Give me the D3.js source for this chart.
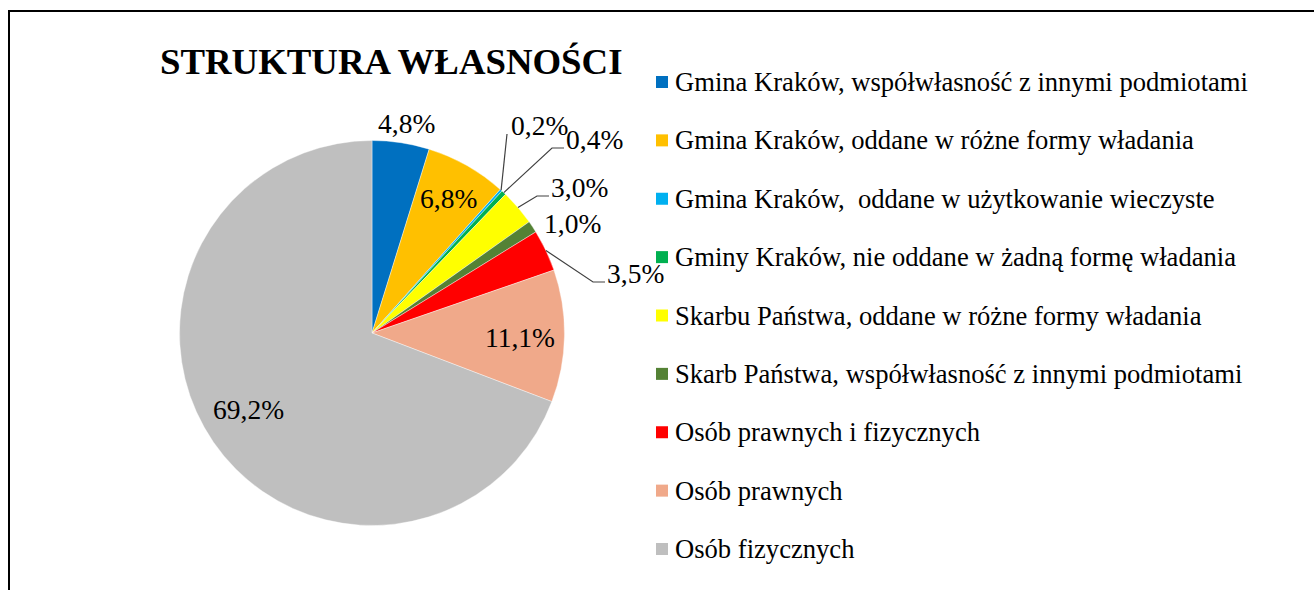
<!DOCTYPE html>
<html>
<head>
<meta charset="utf-8">
<script src="https://cdn.jsdelivr.net/npm/d3@7"></script>
<style>
  html, body { margin: 0; padding: 0; background: #fff; }
</style>
</head>
<body>
<div id="chart"></div>
<script>
// Struktura własności – pie chart

const categories = [
  "Gmina Kraków, współwłasność z innymi podmiotami",
  "Gmina Kraków, oddane w różne formy władania",
  "Gmina Kraków,  oddane w użytkowanie wieczyste",
  "Gminy Kraków, nie oddane w żadną formę władania",
  "Skarbu Państwa, oddane w różne formy władania",
  "Skarb Państwa, współwłasność z innymi podmiotami",
  "Osób prawnych i fizycznych",
  "Osób prawnych",
  "Osób fizycznych"
];
const shares = [4.8, 6.8, 0.2, 0.4, 3.0, 1.0, 3.5, 11.1, 69.2];
const valueLabels = ["4,8%", "6,8%", "0,2%", "0,4%", "3,0%", "1,0%", "3,5%", "11,1%", "69,2%"];
const colors = ["#0070C0", "#FFC000", "#00B0F0", "#00B050", "#FFFF00", "#548235", "#FF0000", "#F0A98A", "#BFBFBF"];

// label placement relative to pie centre (text start, baseline); leader = draw a connector
const labelPlacement = [
  { dx: 6, dy: -200 },
  { dx: 48, dy: -125 },
  { dx: 139, dy: -198, leader: "straight" },
  { dx: 194, dy: -184, leader: "elbow" },
  { dx: 179, dy: -136, leader: "elbow" },
  { dx: 172, dy: -100 },
  { dx: 235, dy: -50, leader: "elbow" },
  { dx: 113, dy: 14 },
  { dx: -159, dy: 86 }
];

const FONT = "'Liberation Serif', 'Times New Roman', serif";
const width = 1314;
const height = 590;
const cx = 372, cy = 333, radius = 192.5;

const svg = d3.select("#chart")
  .append("svg")
  .attr("width", width)
  .attr("height", height);

// frame (right and bottom edges fall outside the picture)
svg.append("rect")
  .attr("x", 9)
  .attr("y", 11)
  .attr("width", width + 20)
  .attr("height", height + 20)
  .attr("fill", "none")
  .attr("stroke", "#000")
  .attr("stroke-width", 2);

// title
svg.append("text")
  .attr("x", 160)
  .attr("y", 74)
  .attr("font-family", FONT)
  .attr("font-size", 36.8)
  .attr("font-weight", "bold")
  .text("STRUKTURA WŁASNOŚCI");

const pie = d3.pie().sort(null).value(d => d);
const arcs = pie(shares);
const arc = d3.arc().innerRadius(0).outerRadius(radius);
const edgeArc = d3.arc().innerRadius(radius).outerRadius(radius);

const g = svg.append("g").attr("transform", `translate(${cx},${cy})`);

g.selectAll("path.slice")
  .data(arcs)
  .join("path")
  .attr("class", "slice")
  .attr("d", arc)
  .attr("fill", (d, i) => colors[i])
  .attr("stroke", "#fff")
  .attr("stroke-width", 0.4);

// leader lines
g.selectAll("path.leader")
  .data(arcs.filter((d, i) => labelPlacement[i].leader))
  .join("path")
  .attr("class", "leader")
  .attr("fill", "none")
  .attr("stroke", "#404040")
  .attr("stroke-width", 1.2)
  .attr("d", d => {
    const p = labelPlacement[d.index];
    const [sx, sy] = edgeArc.centroid(d);
    if (p.leader === "straight") {
      return d3.line()([[sx, sy], [p.dx - 4, p.dy - 1]]);
    }
    return d3.line()([[sx, sy], [p.dx - 14, p.dy - 1], [p.dx - 2, p.dy - 1]]);
  });

// value labels
g.selectAll("text.value")
  .data(arcs)
  .join("text")
  .attr("class", "value")
  .attr("x", (d, i) => labelPlacement[i].dx)
  .attr("y", (d, i) => labelPlacement[i].dy)
  .attr("font-family", FONT)
  .attr("font-size", 27.5)
  .text((d, i) => valueLabels[i]);

// legend
const legendY = d3.scalePoint()
  .domain(categories)
  .range([91, 558]);

const legend = svg.append("g");
const item = legend.selectAll("g")
  .data(categories)
  .join("g")
  .attr("transform", d => `translate(656,${legendY(d)})`);

item.append("rect")
  .attr("x", 0)
  .attr("y", -15)
  .attr("width", 12)
  .attr("height", 12)
  .attr("fill", (d, i) => colors[i]);

item.append("text")
  .attr("x", 19)
  .attr("y", 0)
  .attr("font-family", FONT)
  .attr("font-size", 26.6)
  .attr("xml:space", "preserve")
  .style("white-space", "pre")
  .text(d => d);
</script>
</body>
</html>
